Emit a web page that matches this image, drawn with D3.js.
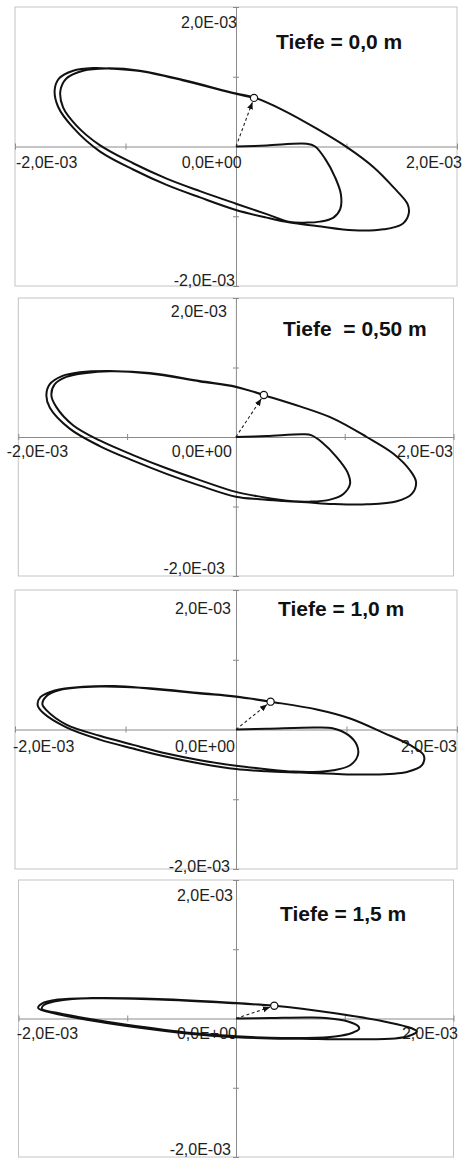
<!DOCTYPE html>
<html>
<head>
<meta charset="utf-8">
<script src="https://cdn.jsdelivr.net/npm/d3@7"></script>
<style>
  body { margin: 0; background: #fff; }
  svg { display: block; }
</style>
</head>
<body>
<svg width="463" height="1158"></svg>
<script>
// Bahnkurven, Werte in Einheiten von 1E-03
var titles = ["Tiefe = 0,0 m", "Tiefe  = 0,50 m", "Tiefe = 1,0 m", "Tiefe = 1,5 m"];
var xLabels = ["-2,0E-03", "0,0E+00", "2,0E-03"];
var yLabels = ["2,0E-03", "-2,0E-03"];
var tickVals = [-2, -1, 1, 2];

var x00 = [0, 0.278, 0.640, 0.716, 0.807, 0.897, 0.949, 0.943, 0.882, 0.761, 0.640, 0.489,
  0.278, 0, -0.326, -0.628, -0.931, -1.233, -1.444, -1.565, -1.589, -1.535, -1.384, -1.172, -0.870, -0.477, 0, 0.163, 0.429, 0.731, 1.003, 1.245, 1.426, 1.553, 1.562, 1.502, 1.335, 1.063, 0.731, 0.489,
  0.278, 0, -0.326, -0.628, -0.931, -1.233, -1.474, -1.610, -1.641, -1.601, -1.474, -1.293, -1.112, -0.870, -0.477, 0, 0.163];
var y00 = [0, 0.014, 0.038, 0, -0.178, -0.442, -0.683, -0.899, -1.019, -1.077, -1.091, -1.082,
  -0.97, -0.82, -0.64, -0.46, -0.24, 0.02, 0.30, 0.56, 0.80, 0.976, 1.087, 1.120, 1.087, 0.952, 0.760, 0.702, 0.519, 0.255, -0.010, -0.298, -0.587, -0.827, -0.971, -1.115, -1.188, -1.202, -1.139, -1.091,
  -1.02, -0.91, -0.73, -0.55, -0.33, -0.07, 0.27, 0.57, 0.81, 0.976, 1.087, 1.125, 1.115, 1.082, 0.947, 0.755, 0.697];

var x05 = [0, 0.282, 0.620, 0.696, 0.788, 0.926, 1.025, 1.049, 0.988, 0.865, 0.681, 0.528,
  0.221, 0, -0.331, -0.638, -0.945, -1.252, -1.497, -1.650, -1.696, -1.666, -1.558, -1.374, -1.160, -0.791, -0.331, 0, 0.252, 0.589, 0.896, 1.202, 1.448, 1.601, 1.656, 1.617, 1.479, 1.202, 0.896, 0.650, 0.436,
  0.221, 0, -0.331, -0.638, -0.945, -1.252, -1.528, -1.710, -1.742, -1.712, -1.604, -1.436, -1.160, -0.791, -0.331, 0, 0.257];
var y05 = [0, 0.014, 0.039, 0.024, -0.072, -0.289, -0.506, -0.675, -0.819, -0.901, -0.930, -0.925,
  -0.858, -0.79, -0.62, -0.45, -0.26, -0.05, 0.17, 0.43, 0.60, 0.757, 0.865, 0.922, 0.945, 0.920, 0.805, 0.725, 0.605, 0.440, 0.265, 0, -0.241, -0.482, -0.651, -0.819, -0.925, -0.969, -0.964, -0.940, -0.920,
  -0.896, -0.86, -0.70, -0.53, -0.34, -0.13, 0.12, 0.42, 0.60, 0.757, 0.872, 0.930, 0.950, 0.915, 0.800, 0.720, 0.605];

var x10 = [0, 0.278, 0.731, 0.882, 1.018, 1.094, 1.103, 1.033, 0.882, 0.701, 0.520,
  0.278, 0, -0.326, -0.628, -0.931, -1.233, -1.535, -1.716, -1.752, -1.716, -1.595, -1.233, -0.779, -0.326, 0, 0.313, 0.731, 1.033, 1.335, 1.577, 1.698, 1.683, 1.547, 1.184, 0.882, 0.580,
  0.278, 0, -0.326, -0.628, -0.931, -1.233, -1.535, -1.746, -1.795, -1.770, -1.640, -1.384, -1.100, -0.779, -0.326, 0, 0.313];
var y10 = [0, 0.010, 0.029, 0.014, -0.081, -0.225, -0.368, -0.512, -0.584, -0.608, -0.603,
  -0.569, -0.520, -0.440, -0.344, -0.220, -0.090, 0.070, 0.278, 0.364, 0.478, 0.565, 0.615, 0.590, 0.522, 0.474, 0.399, 0.287, 0.158, -0.048, -0.225, -0.368, -0.512, -0.608, -0.646, -0.636, -0.617,
  -0.598, -0.568, -0.488, -0.392, -0.273, -0.145, 0.030, 0.239, 0.350, 0.465, 0.560, 0.612, 0.624, 0.585, 0.517, 0.469, 0.399];

var x15 = [0, 0.313, 0.681, 0.846, 1.030, 1.122, 1.132, 1.067, 0.911, 0.635,
  0.313, 0, -0.408, -1.021, -1.343, -1.638, -1.785, -1.766, -1.619, -1.327, -0.718, 0, 0.350, 0.911, 1.371, 1.616, 1.662, 1.601, 1.463, 1.064, 0.604,
  0.313, 0, -0.408, -1.021, -1.343, -1.665, -1.819, -1.785, -1.638, -1.327, -0.718, 0, 0.352];
var y15 = [0, 0.007, 0.014, 0.004, -0.043, -0.108, -0.151, -0.209, -0.259, -0.281,
  -0.278, -0.256, -0.209, -0.086, -0.007, 0.079, 0.137, 0.194, 0.259, 0.291, 0.276, 0.219, 0.184, 0.075, -0.046, -0.141, -0.190, -0.245, -0.288, -0.299, -0.292,
  -0.288, -0.269, -0.223, -0.105, -0.026, 0.072, 0.151, 0.216, 0.273, 0.295, 0.281, 0.223, 0.184];

var series = [[x00, y00], [x05, y05], [x10, y10], [x15, y15]];

// Lage der Diagramme
var layout = [
  {l: 15,   r: 457,   t: 7,   b: 286,  yt: [1, 21.4],  yb: [-1, -0.3],  xb: 21.2, xl: 1,     x0: 5.7, xr: 5,    title: [276, 48.5]},
  {l: 18.3, r: 453.5, t: 298, b: 576,  yt: [-9, 19.4], yb: [-11, -2.3], xb: 19.7, xl: -11.6, x0: -4,  xr: -0.5, title: [283, 335.5]},
  {l: 15,   r: 457,   t: 590, b: 869,  yt: [-5, 24],   yb: [-6, 2.7],   xb: 22.9, xl: -2,    x0: -1,  xr: 0,    title: [278, 615.5]},
  {l: 18.5, r: 453.5, t: 880, b: 1157, yt: [-3, 20.7], yb: [-5, -1.8],  xb: 20.2, xl: -1.8,  x0: 1,   xr: 4.5,  title: [280, 920.5]}
];

var svg = d3.select("svg");
var font = "'Liberation Sans', Arial, sans-serif";

svg.append("defs").append("marker")
  .attr("id", "arrow")
  .attr("markerUnits", "userSpaceOnUse")
  .attr("markerWidth", 8).attr("markerHeight", 8)
  .attr("refX", 7).attr("refY", 3)
  .attr("orient", "auto")
  .append("path")
  .attr("d", "M0,0 L7,3 L0,6 Z")
  .attr("fill", "#111");

layout.forEach(function(p, i) {
  var x = d3.scaleLinear().domain([-2, 2]).range([p.l, p.r]);
  var y = d3.scaleLinear().domain([-2, 2]).range([p.b, p.t]);
  var g = svg.append("g");

  g.append("rect")
    .attr("x", p.l).attr("y", p.t)
    .attr("width", p.r - p.l).attr("height", p.b - p.t)
    .attr("fill", "none").attr("stroke", "#c4c4c4");

  // Achsen mit kreuzenden Teilstrichen
  [d3.axisBottom, d3.axisTop].forEach(function(ax, k) {
    var a = g.append("g").attr("transform", "translate(0," + y(0) + ")")
      .call(ax(x).tickValues(tickVals).tickSize(3).tickSizeOuter(0).tickFormat(""));
    if (k) a.select(".domain").remove();
  });
  [d3.axisLeft, d3.axisRight].forEach(function(ax, k) {
    var a = g.append("g").attr("transform", "translate(" + x(0) + ",0)")
      .call(ax(y).tickValues(tickVals).tickSize(3).tickSizeOuter(0).tickFormat(""));
    if (k) a.select(".domain").remove();
  });
  g.selectAll(".domain, .tick line").attr("stroke", "#8a8a8a");

  var lab = g.append("g").attr("font-family", font).attr("font-size", 16).attr("fill", "#1e1e1e");
  lab.append("text").attr("x", x(0) + p.yt[0]).attr("y", p.t + p.yt[1])
    .attr("text-anchor", "end").text(yLabels[0]);
  lab.append("text").attr("x", x(0) + p.yb[0]).attr("y", p.b + p.yb[1])
    .attr("text-anchor", "end").text(yLabels[1]);
  lab.append("text").attr("x", x(-2) + p.xl).attr("y", y(0) + p.xb)
    .attr("text-anchor", "start").text(xLabels[0]);
  lab.append("text").attr("x", x(0) + p.x0).attr("y", y(0) + p.xb)
    .attr("text-anchor", "end").text(xLabels[1]);
  lab.append("text").attr("x", x(2) + p.xr).attr("y", y(0) + p.xb)
    .attr("text-anchor", "end").text(xLabels[2]);

  var xs = series[i][0], ys = series[i][1];
  var pts = xs.map(function(v, j) { return [v, ys[j]]; });
  var line = d3.line()
    .x(function(d) { return x(d[0]); })
    .y(function(d) { return y(d[1]); })
    .curve(d3.curveCatmullRom.alpha(0.5));

  g.append("path").datum(pts)
    .attr("d", line)
    .attr("fill", "none").attr("stroke", "#111")
    .attr("stroke-width", 2).attr("stroke-linejoin", "round");

  // Verschiebung: gestrichelter Pfeil vom Ursprung zum Endpunkt
  var end = pts[pts.length - 1];
  var ex = x(end[0]), ey = y(end[1]), ox = x(0), oy = y(0);
  var len = Math.hypot(ex - ox, ey - oy), r = 3.6;
  g.append("line")
    .attr("x1", ox).attr("y1", oy)
    .attr("x2", ex - (ex - ox) * (r + 1) / len)
    .attr("y2", ey - (ey - oy) * (r + 1) / len)
    .attr("stroke", "#222").attr("stroke-width", 1.1)
    .attr("stroke-dasharray", "3,2.5")
    .attr("marker-end", "url(#arrow)");

  g.append("circle")
    .attr("cx", ex).attr("cy", ey).attr("r", r)
    .attr("fill", "#fff").attr("stroke", "#111").attr("stroke-width", 1.2);

  g.append("text")
    .attr("x", p.title[0]).attr("y", p.title[1])
    .attr("font-family", font).attr("font-size", 21).attr("font-weight", "bold")
    .attr("fill", "#111").style("white-space", "pre")
    .text(titles[i]);
});
</script>
</body>
</html>
